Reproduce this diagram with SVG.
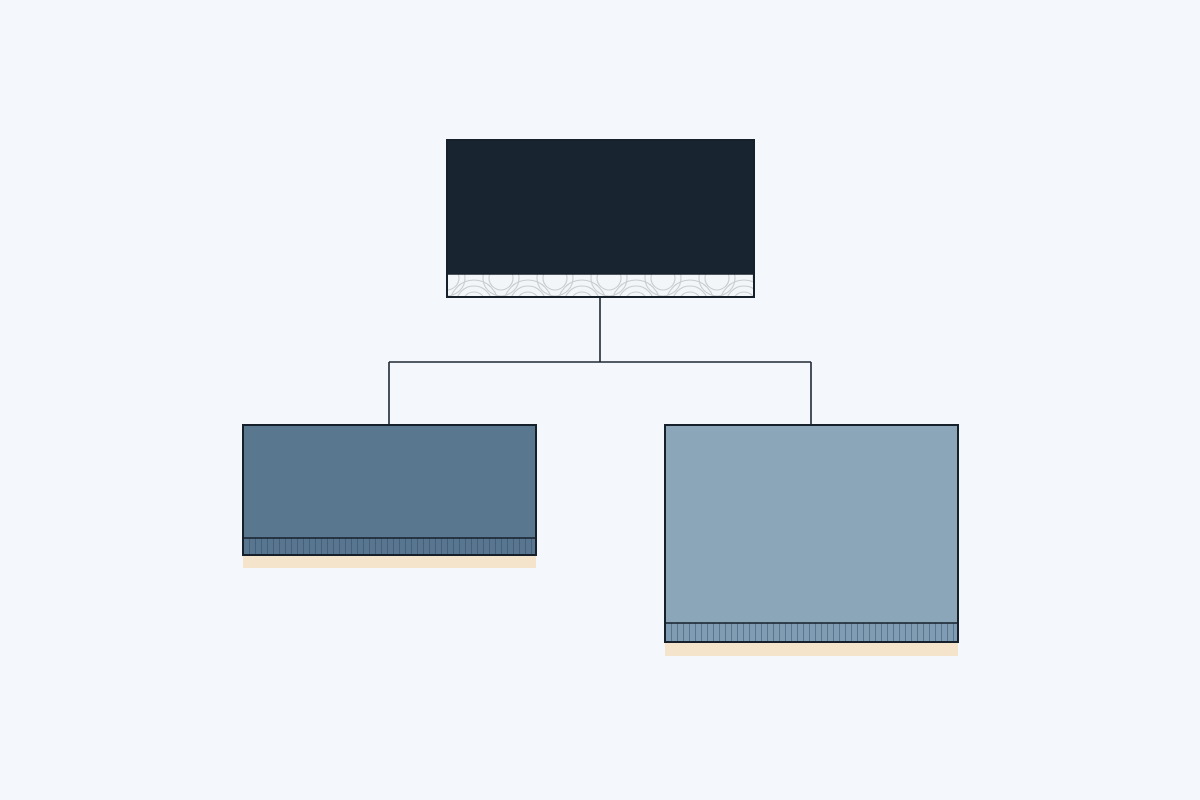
<svg xmlns="http://www.w3.org/2000/svg" width="1200" height="800" viewBox="0 0 1200 800">
<style>
.box{stroke:#16202b;stroke-width:2}
.conn{stroke:#1e2833;stroke-width:1.6;fill:none}
.shadow{fill:#f3e4cb}
</style>
<defs>
<pattern id="arcs" x="447" y="274" width="54" height="23" patternUnits="userSpaceOnUse">
<rect width="54" height="23" fill="#f3f6f9"/>
<g fill="none" stroke="#c9cdd1" stroke-width="1.1">
<circle cx="27" cy="30" r="24"/><circle cx="27" cy="30" r="18"/><circle cx="27" cy="30" r="12"/>
<circle cx="0" cy="4" r="12"/><circle cx="54" cy="4" r="12"/><circle cx="0" cy="4" r="18"/><circle cx="54" cy="4" r="18"/>
</g>
</pattern>
<pattern id="stripesL" x="243" y="538" width="6" height="20" patternUnits="userSpaceOnUse">
<rect width="6" height="20" fill="#587690"/>
<line x1="0.5" y1="0" x2="0.5" y2="20" stroke="#46607a" stroke-width="1"/>
</pattern>
<pattern id="stripesR" x="665" y="623" width="6" height="20" patternUnits="userSpaceOnUse">
<rect width="6" height="20" fill="#809cb2"/>
<line x1="0.5" y1="0" x2="0.5" y2="20" stroke="#5a7590" stroke-width="1"/>
</pattern>
</defs>
<rect width="1200" height="800" fill="#f4f7fb"/>
<g id="connectors">
<path class="conn" d="M600 297 V362 M389 362 H811 M389 362 V425 M811 362 V425"/>
</g>
<g id="node-top">
<rect x="447" y="140" width="307" height="134" fill="#182531"/>
<rect x="447" y="274" width="307" height="23" fill="url(#arcs)"/>
<rect class="box" x="447" y="140" width="307" height="157" fill="none"/>
<line x1="447" y1="274" x2="754" y2="274" stroke="#16202b" stroke-width="1.5"/>
</g>
<g id="node-left">
<rect class="shadow" x="243" y="555" width="293" height="13"/>
<rect x="243" y="425" width="293" height="113" fill="#5a7790"/>
<rect x="243" y="538" width="293" height="17" fill="url(#stripesL)"/>
<rect class="box" x="243" y="425" width="293" height="130" fill="none"/>
<line x1="243" y1="538" x2="536" y2="538" stroke="#16202b" stroke-width="1.5"/>
</g>
<g id="node-right">
<rect class="shadow" x="665" y="642" width="293" height="14"/>
<rect x="665" y="425" width="293" height="198" fill="#8ba5b9"/>
<rect x="665" y="623" width="293" height="19" fill="url(#stripesR)"/>
<rect class="box" x="665" y="425" width="293" height="217" fill="none"/>
<line x1="665" y1="623" x2="958" y2="623" stroke="#16202b" stroke-width="1.5"/>
</g>
</svg>
